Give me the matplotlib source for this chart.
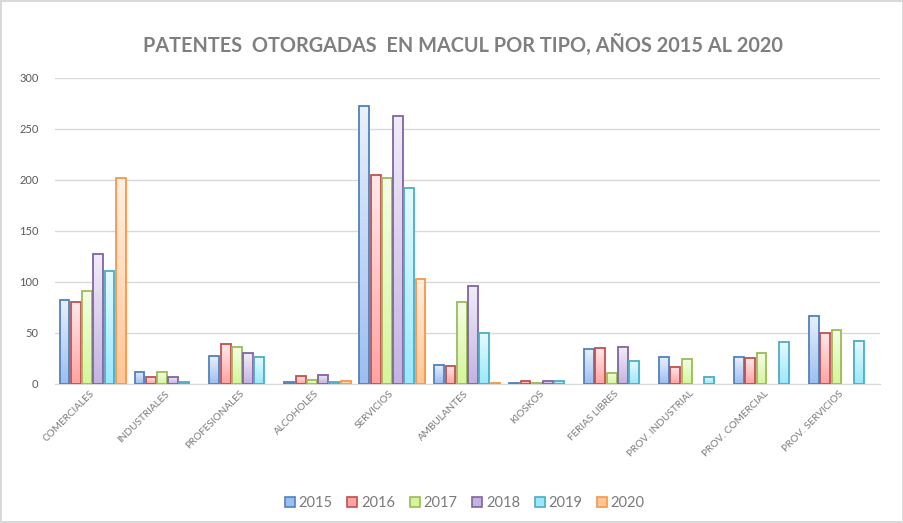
import numpy as np
import matplotlib.pyplot as plt
from matplotlib.colors import LinearSegmentedColormap
from matplotlib.patches import Rectangle

# categorías y valores por año
categorias = ['COMERCIALES', 'INDUSTRIALES', 'PROFESIONALES', 'ALCOHOLES', 'SERVICIOS',
              'AMBULANTES', 'KIOSKOS', 'FERIAS LIBRES', 'PROV. INDUSTRIAL',
              'PROV. COMERCIAL', 'PROV. SERVICIOS']
anios = ['2015', '2016', '2017', '2018', '2019', '2020']

v2015 = [82, 12, 27, 2, 272, 19, 1, 34, 26, 26, 67]
v2016 = [80, 7, 39, 8, 205, 18, 3, 35, 17, 25, 50]
v2017 = [91, 12, 36, 4, 202, 80, 1, 11, 24, 30, 53]
v2018 = [127, 7, 30, 9, 263, 96, 3, 36, 0, 0, 0]
v2019 = [111, 2, 26, 2, 192, 50, 3, 22, 7, 41, 42]
v2020 = [202, 0, 0, 3, 103, 1, 0, 0, 0, 0, 0]
valores = [v2015, v2016, v2017, v2018, v2019, v2020]

# borde, color claro abajo, color casi blanco arriba
bordes = ['#4f81bd', '#c0504d', '#9bbb59', '#8064a2', '#4bacc6', '#f79646']
fondos = ['#9dbef0', '#ffa3a3', '#d6f59a', '#c3b3e0', '#9be8fb', '#ffc797']
topes = ['#e9f0fb', '#ffe9e9', '#f5fde6', '#f1ecf8', '#e6faff', '#fff0e3']

gris = '#595959'
gris_claro = '#7a7a7a'
plt.rcParams['font.family'] = ['Lato', 'DejaVu Sans']

fig = plt.figure(figsize=(9.04, 5.23), dpi=100)
fig.patch.set_edgecolor('#d9d9d9')
fig.patch.set_linewidth(1.5)
ax = fig.add_axes([0.061, 0.266, 0.912, 0.585])

x = np.arange(len(categorias))
ancho = 0.15
grad = np.linspace(0, 1, 64).reshape(-1, 1)

for i, serie in enumerate(valores):
    v = np.array(serie, dtype=float)
    pos = x - 0.45 + ancho * (i + 0.5)
    m = v > 0
    bars = ax.bar(pos[m], v[m], width=ancho * 0.88, facecolor='none',
                  edgecolor=bordes[i], linewidth=1.3, zorder=3)
    cmap = LinearSegmentedColormap.from_list('g%d' % i, [fondos[i], topes[i]])
    for b in bars:
        x0, w, h = b.get_x(), b.get_width(), b.get_height()
        im = ax.imshow(grad, extent=[x0, x0 + w, 0, h], origin='lower', cmap=cmap,
                       aspect='auto', zorder=2)
        im.set_clip_path(b)

ax.set_xlim(-0.5, len(categorias) - 0.5)
ax.set_ylim(0, 300)
ax.set_yticks(range(0, 301, 50))
ax.yaxis.grid(True, color='#d9d9d9', linewidth=1)
ax.set_axisbelow(True)
for s in ['left', 'right', 'top']:
    ax.spines[s].set_visible(False)
ax.spines['bottom'].set_color('#d9d9d9')
ax.tick_params(axis='both', length=0, colors=gris, labelsize=8)
ax.tick_params(axis='y', pad=12)
ax.tick_params(axis='x', pad=6, colors=gris_claro)
ax.set_xticks(x)
ax.set_xticklabels(categorias, rotation=45, ha='right', va='center',
                   rotation_mode='anchor', fontsize=7.2)

fig.text(0.512, 0.915, 'PATENTES  OTORGADAS  EN MACUL POR TIPO, AÑOS 2015 AL 2020',
         ha='center', va='center', fontsize=14.3, fontweight='bold', color='#7f7f7f')

handles = [Rectangle((0, 0), 1, 1, facecolor=fondos[i], edgecolor=bordes[i], linewidth=1.2)
           for i in range(len(anios))]
leg = fig.legend(handles, anios, loc='center', bbox_to_anchor=(0.514, 0.038), ncol=6,
                 frameon=False, fontsize=10.5, handlelength=0.7, handleheight=0.7,
                 handletextpad=0.25, columnspacing=1.0)
for t in leg.get_texts():
    t.set_color(gris_claro)

fig.savefig('out.png', dpi=100)
